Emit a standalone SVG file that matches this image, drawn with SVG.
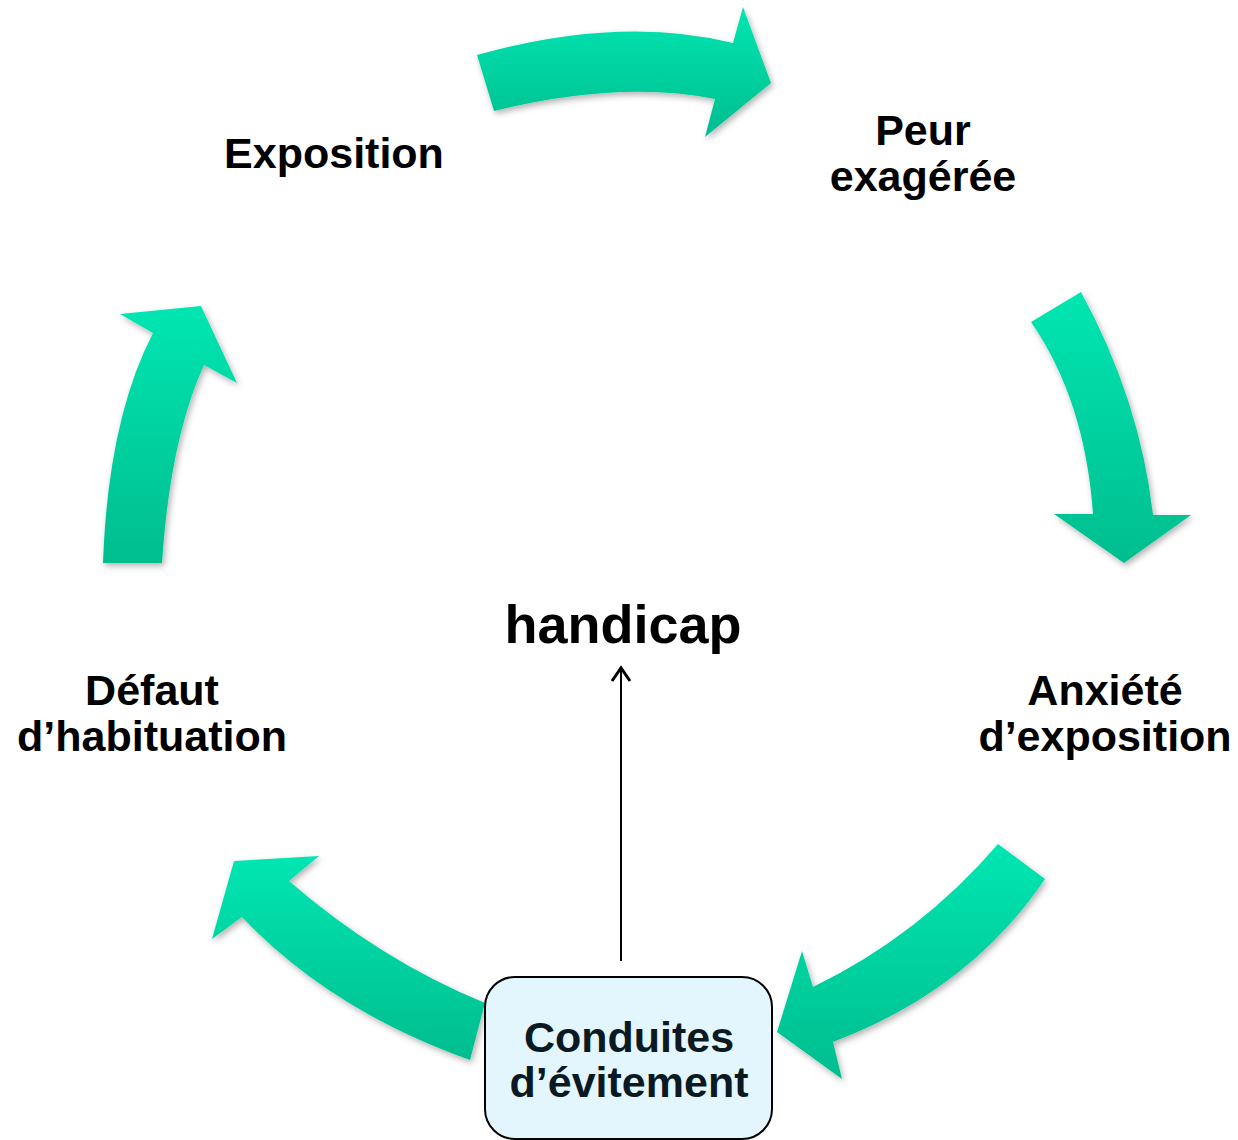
<svg xmlns="http://www.w3.org/2000/svg" width="1238" height="1140" viewBox="0 0 1238 1140">
<defs>
<linearGradient id="g" x1="0" y1="0" x2="0" y2="1">
<stop offset="0" stop-color="#00E6B2"/>
<stop offset="1" stop-color="#00BD8E"/>
</linearGradient>
<filter id="sh" x="-20%" y="-20%" width="140%" height="140%">
<feDropShadow dx="2" dy="3" stdDeviation="3" flood-color="#000" flood-opacity="0.3"/>
</filter>
<marker id="open" viewBox="0 0 24 24" refX="20" refY="12" markerWidth="24" markerHeight="24" markerUnits="userSpaceOnUse" orient="auto">
<path d="M7,3 L20,12 L7,21" fill="none" stroke="#000" stroke-width="3"/>
</marker>
<style>
.arr{fill:url(#g);filter:url(#sh)}
.t{font-family:"Liberation Sans",Arial,sans-serif;font-weight:bold;font-size:43px;fill:#000;text-anchor:middle}
.h{font-size:54px}
.b{fill:#0B1A22}
</style>
</defs>
<g id="connectors">
<path class="arr" d="M477,55 Q620,15 733,43 L743,7 L771,83 L705,137 L715,99 Q620,80 494,111 Z"/>
<path class="arr" d="M1081,292 Q1140,400 1153,515 L1191,515 L1124,563 L1054,514 L1093,514 Q1085,400 1031,322 Z"/>
<path class="arr" d="M998,844 Q920,935 813,987 L802,951 L777,1032 L842,1079 L833,1042 Q970,990 1045,879 Z"/>
<path class="arr" d="M485,1003 Q380,960 289,881 L319,856 L234,861 L212,939 L242,917 Q330,1010 470,1060 Z"/>
<path class="arr" d="M103,563 Q108,420 153,333 L120,314 L201,306 L237,383 L204,365 Q170,440 162,563 Z"/>
<line x1="621" y1="961" x2="621" y2="668" stroke="#000" stroke-width="2" marker-end="url(#open)"/>
</g>
<g id="exposition"><text class="t" x="334" y="168">Exposition</text></g>
<g id="peur"><text class="t" x="923" y="145">Peur</text><text class="t" x="923" y="191">exagérée</text></g>
<g id="anxiete"><text class="t" x="1105" y="705">Anxiété</text><text class="t" x="1105" y="751">d’exposition</text></g>
<g id="defaut"><text class="t" x="152" y="705">Défaut</text><text class="t" x="152" y="751">d’habituation</text></g>
<g id="handicap"><text class="t h" x="623" y="643">handicap</text></g>
<g id="conduites">
<rect x="485" y="977" width="287" height="162" rx="30" ry="30" fill="#E3F6FD" stroke="#000" stroke-width="2"/>
<text class="t b" x="629" y="1052">Conduites</text><text class="t b" x="629" y="1097">d’évitement</text>
</g>
</svg>
